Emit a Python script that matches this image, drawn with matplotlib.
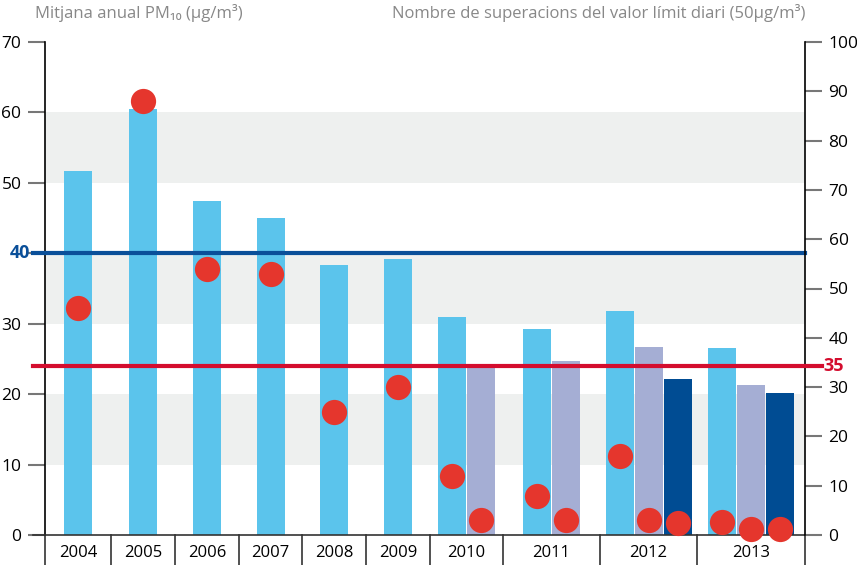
import matplotlib.pyplot as plt
import matplotlib.transforms as mtransforms
import numpy as np

plt.rcParams['font.family'] = ['Open Sans', 'DejaVu Sans']

years = ['2004', '2005', '2006', '2007', '2008', '2009', '2010', '2011', '2012', '2013']
# annual mean PM10 (ug/m3), one to three bars per year
pm10 = [[51.7], [60.5], [47.4], [45.0], [38.4], [39.2],
        [31.0, 24.0], [29.3, 24.7], [31.8, 26.7, 22.2], [26.6, 21.3, 20.2]]
# number of days above daily limit, one per bar
exceed = [[46], [88], [54], [53], [25], [30],
          [12, 3], [8, 3], [16, 3, 2.5], [2.6, 1.2, 1.2]]
annual_limit = 40
daily_limit = 35
daily_line = 34.3   # where the red line sits in the original

# layout (in pixel-like units along x)
edges = [0, 66, 130, 194, 257, 321, 385, 458, 555, 652, 760]
pitch = 29
bar_w = 28
bar_colors = ['#5BC4EC', '#A5AED4', '#004C93']

fig = plt.figure(figsize=(8.57, 5.65), dpi=100)
ax = fig.add_axes([45 / 857, 30 / 565, 760 / 857, 493 / 565])
ax2 = ax.twinx()

ax.set_xlim(edges[0], edges[-1])
ax.set_ylim(0, 70)
ax2.set_ylim(0, 100)

for lo, hi in [(10, 20), (30, 40), (50, 60)]:
    ax.axhspan(lo, hi, color='#EEF0EF', zorder=0, lw=0)

dots_x, dots_y = [], []
for i, vals in enumerate(pm10):
    center = (edges[i] + edges[i + 1]) / 2
    n = len(vals)
    xs = center + (np.arange(n) - (n - 1) / 2) * pitch
    for j, (x, v) in enumerate(zip(xs, vals)):
        ax.bar(x, v, width=bar_w, color=bar_colors[j], zorder=2, lw=0)
        dots_x.append(x)
        dots_y.append(exceed[i][j])

# limit lines
ax.plot([-12, edges[-1]], [annual_limit] * 2, color='#0A4F99', lw=3, zorder=3, clip_on=False)
ax.text(-15, annual_limit, str(annual_limit), color='#0A4F99', fontsize=13, fontweight='bold',
        ha='right', va='center')
ax2.plot([-12, edges[-1] + 17], [daily_line] * 2, color='#D40D2E', lw=3, zorder=3, clip_on=False)
ax2.text(edges[-1] + 18, daily_line, str(daily_limit), color='#D40D2E', fontsize=13,
         fontweight='bold', ha='left', va='center')

ax2.scatter(dots_x, dots_y, s=330, color='#E5362D', zorder=5, clip_on=False, lw=0)

# axes styling
for a in (ax, ax2):
    a.spines['top'].set_visible(False)
    a.spines['bottom'].set_visible(False)
    a.set_xticks([])
ax.spines['right'].set_visible(False)
ax2.spines['left'].set_visible(False)
ax.spines['left'].set_linewidth(1.2)
ax2.spines['right'].set_linewidth(1.2)

lticks = [0, 10, 20, 30, 40, 50, 60, 70]
ax.set_yticks(lticks)
ax.set_yticklabels(['' if t == annual_limit else str(t) for t in lticks])
ax.tick_params(axis='y', length=12, width=1.5, color='#777777', labelsize=12.5, pad=5)
ax2.set_yticks(range(0, 101, 10))
ax2.tick_params(axis='y', length=12, width=1.5, color='#777777', labelsize=12.5, pad=5)

# category axis below
trans = mtransforms.blended_transform_factory(ax.transData, ax.transAxes)
ax.plot([edges[0] - 12, edges[-1]], [0, 0], color='#333333', lw=1.2, transform=trans,
        clip_on=False, zorder=4)
for e in edges:
    ax.plot([e, e], [0, -0.062], color='#333333', lw=1.2, transform=trans, clip_on=False)
for i, y in enumerate(years):
    ax.text((edges[i] + edges[i + 1]) / 2, -0.036, y, transform=trans, ha='center',
            va='center', fontsize=12)

fig.text(35 / 857, 1 - 13 / 565, 'Mitjana anual PM₁₀ (μg/m³)', color='#888888',
         fontsize=12, ha='left', va='center')
fig.text(805 / 857, 1 - 13 / 565, 'Nombre de superacions del valor límit diari (50μg/m³)',
         color='#888888', fontsize=12, ha='right', va='center')

fig.savefig('out.png', dpi=100)
